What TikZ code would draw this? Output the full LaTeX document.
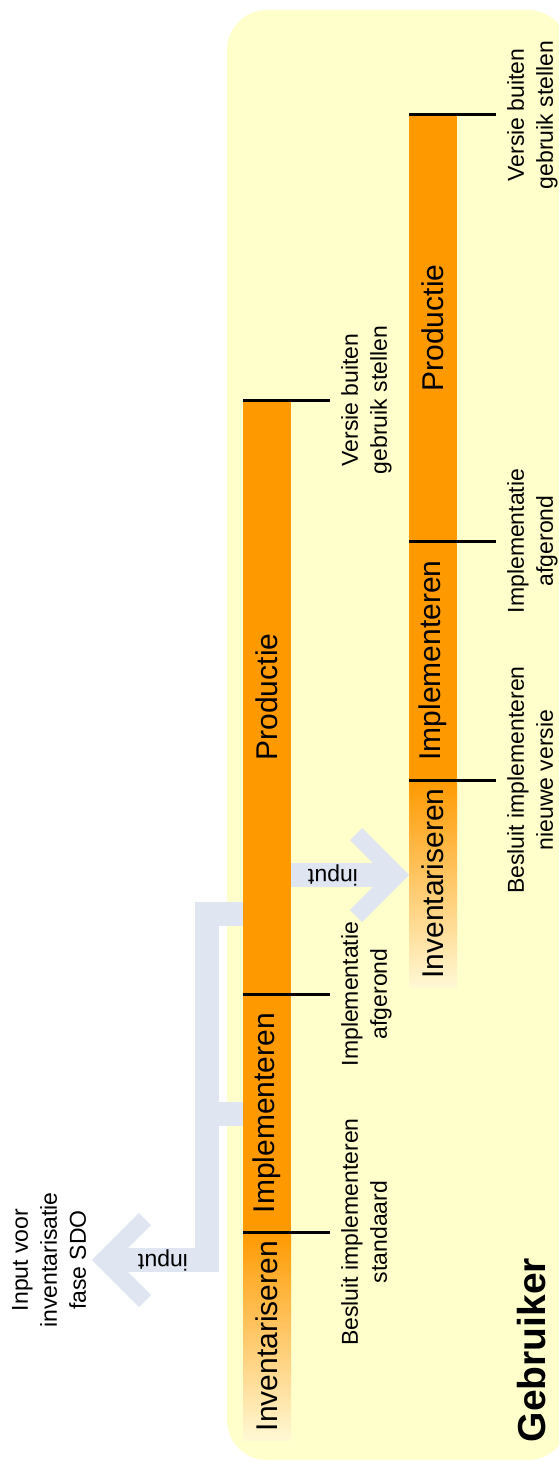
\documentclass[tikz,border=0pt]{standalone}
\usepackage{fontspec}
\setmainfont{Liberation Sans}
\definecolor{zoneyellow}{RGB}{255,255,204}
\definecolor{phaseorange}{RGB}{255,153,0}
\definecolor{fadeorange}{RGB}{255,192,84}
\definecolor{fadeyellow}{RGB}{255,248,212}
\definecolor{arrowblue}{RGB}{223,230,242}
\newcommand\phase[5]{\node[phasebar,#5,minimum height=#4pt] (#1) at #3 {}; \node[plabel] (#1-text) at (#1) {#2};}
\newcommand\milestone[3]{\draw[tick] (#1) -- ++(87,0) coordinate (#2); \node[mlabel] (#2-text) at ([xshift=11pt]#2) {#3};}

\begin{document}
\begin{tikzpicture}[x=1pt,y=-1pt]
\tikzstyle{zone}=[fill=zoneyellow,rounded corners=40pt,minimum width=341pt,minimum height=1450pt,inner sep=0pt]
\tikzstyle{phasebar}=[fill=phaseorange,minimum width=48pt,inner sep=0pt,outer sep=0pt]
\tikzstyle{startbar}=[top color=phaseorange,middle color=fadeorange,bottom color=fadeyellow]
\tikzstyle{plabel}=[rotate=90,inner sep=0pt,font=\fontsize{30}{36}\selectfont]
\tikzstyle{tick}=[line width=3pt]
\tikzstyle{mlabel}=[rotate=90,anchor=north,align=center,inner sep=0pt,font=\fontsize{23}{29}\selectfont]
\tikzstyle{inputarrow}=[draw=arrowblue,line width=24pt]
\tikzstyle{chevron}=[draw=arrowblue,line width=17pt]
\tikzstyle{inputlabel}=[rotate=180,inner sep=0pt,font=\fontsize{23}{28}\selectfont]

\useasboundingbox (0,0) rectangle (559,1463);
\clip (0,0) rectangle (559,1463);

\node[zone] (zone) at (397.5,735) {};
\node[rotate=90,inner sep=0pt,font=\bfseries\fontsize{39}{47}\selectfont] (gebruiker) at (532,1350) {Gebruiker};

%% current standard
\phase{inv1}{Inventariseren}{(267,1336)}{208}{startbar}
\phase{imp1}{Implementeren}{(267,1113)}{238}{}
\phase{prod1}{Productie}{(267,697)}{594}{}

%% new version
\phase{inv2}{Inventariseren}{(433,883.5)}{207}{startbar}
\phase{imp2}{Implementeren}{(433,660.5)}{239}{}
\phase{prod2}{Productie}{(433,328)}{426}{}

%% milestones
\milestone{inv1.north west}{dec1}{Besluit implementeren\\standaard}
\milestone{imp1.north west}{done1}{Implementatie\\afgerond}
\milestone{prod1.north west}{end1}{Versie buiten\\gebruik stellen}
\milestone{inv2.north west}{dec2}{Besluit implementeren\\nieuwe versie}
\milestone{imp2.north west}{done2}{Implementatie\\afgerond}
\milestone{prod2.north west}{end2}{Versie buiten\\gebruik stellen}

%% input arrows
\node[mlabel,anchor=center] (sdo) at (49,1260) {Input voor\\inventarisatie\\fase SDO};
\coordinate (fork) at (207,914);
\coordinate (tip1) at (104,1260);
\draw[inputarrow] (prod1.west |- fork) -- (fork) -- (fork |- tip1) -- (tip1);
\draw[inputarrow] (imp1.west |- 0,1114) -- (fork |- 0,1114);
\draw[chevron] ([shift={(41,-41)}]tip1) -- (tip1) -- ([shift={(41,41)}]tip1);
\node[inputlabel] (input1) at (163,1260) {input};

\path (inv2.west |- 0,875) ++(-12,0) coordinate (tip2);
\draw[inputarrow] (prod1.east |- tip2) -- (tip2);
\draw[chevron] ([shift={(-41,-41)}]tip2) -- (tip2) -- ([shift={(-41,41)}]tip2);
\node[inputlabel] (input2) at (333,875) {input};
\end{tikzpicture}
\end{document}
